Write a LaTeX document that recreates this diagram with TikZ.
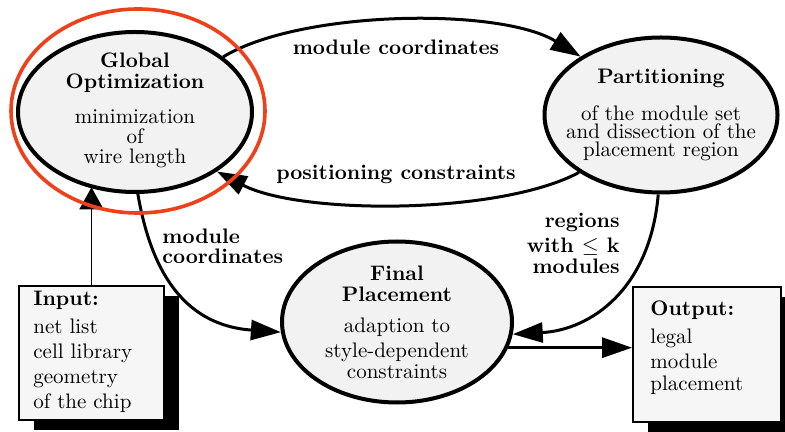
\documentclass[tikz,border=0pt]{standalone}
\usetikzlibrary{arrows.meta,shapes.geometric,shadows}
\definecolor{hlred}{RGB}{240,64,26}
\begin{document}
\begin{tikzpicture}[x=0.5pt,y=-0.5pt,
  ell/.style={draw,line width=2pt,ellipse,fill=gray!10,inner sep=0pt},
  iobox/.style={draw,line width=0.9pt,fill=gray!7,inner sep=0pt,
    drop shadow={shadow xshift=7.5pt,shadow yshift=-5pt,fill=black,opacity=1}},
  txt/.style={inner sep=0pt},
  conn/.style={line width=1.5pt,-{Triangle[length=15pt,width=10pt]}},
  thinconn/.style={line width=0.9pt,-{Triangle[length=11pt,width=12pt]}},
]
\useasboundingbox (0,0) rectangle (785,432);

% main ellipses
\node[ell,minimum width=117pt,minimum height=80pt] (go) at (135,112) {};
\node[ell,minimum width=116.5pt,minimum height=77.5pt] (part) at (661,115) {};
\node[ell,minimum width=115pt,minimum height=80.5pt] (fin) at (397,322) {};

% boxes
\node[iobox,minimum width=72.5pt,minimum height=67pt] (input) at (91.5,353) {};
\node[iobox,minimum width=74pt,minimum height=67.5pt] (output) at (707,354.5) {};

% texts in nodes
\node[txt,anchor=north,align=center,font=\fontsize{10.5}{10}\selectfont] (gotxt) at (135,52.4)
  {\textbf{Global}\\[0.5pt]\textbf{Optimization}\\[7.5pt]minimization\\of\\wire length};
\node[txt,anchor=north,align=center,font=\fontsize{10.5}{9}\selectfont] (parttxt) at (661,68.4)
  {\textbf{Partitioning}\\[8pt]of the module set\\and dissection of the\\placement region};
\node[txt,anchor=north,align=center,font=\fontsize{10.5}{10.5}\selectfont] (fintxt) at (397,265.4)
  {\textbf{Final}\\\textbf{Placement}\\[5pt]adaption to\\[2pt]style-dependent\\constraints};
\node[txt,anchor=north west,align=left,font=\fontsize{10.5}{12.5}\selectfont] (inputtxt) at (33,290.6)
  {\textbf{Input:}\\[1.5pt]net list\\cell library\\geometry\\of the chip};
\node[txt,anchor=north west,align=left,font=\fontsize{10.5}{12}\selectfont] (outputtxt) at (650,300.6)
  {\textbf{Output:}\\[2pt]legal\\[0.5pt]module\\[-1pt]placement};

% connectors
\draw[conn] (go.32) .. controls (300,10) and (500,7) .. (part.144);
\draw[conn] (part.215.5) .. controls (500,215) and (300,215) .. (go.324.8);
\draw[thinconn] (input.north) -- (input.north |- go.238.7);
\draw[conn] (go.272) .. controls (150,265) and (180,325) .. (fin.185);
\draw[conn] (part.268) .. controls (650,290) and (590,330) .. (fin.354.6);
\draw[conn] (fin.347) -- (fin.347 -| output.west);

% connector labels
\node[txt,anchor=base,font=\fontsize{10.5}{10}\selectfont\bfseries] (lmc) at (396,55) {module coordinates};
\node[txt,anchor=base,font=\fontsize{10.5}{10}\selectfont\bfseries] (lpc) at (396,180) {positioning constraints};
\node[txt,anchor=north west,align=left,font=\fontsize{10.5}{10}\selectfont\bfseries] (lmc2) at (162,228.4)
  {module\\coordinates};
\node[txt,anchor=north east,align=right,font=\fontsize{10.5}{10.5}\selectfont\bfseries] (lreg) at (620,213)
  {regions\\[2pt]with $\leq$ k\\modules};

% highlight
\node[draw=hlred,line width=1.8pt,ellipse,minimum width=127pt,minimum height=102pt,inner sep=0pt] (hl) at (138,111) {};
\end{tikzpicture}
\end{document}
